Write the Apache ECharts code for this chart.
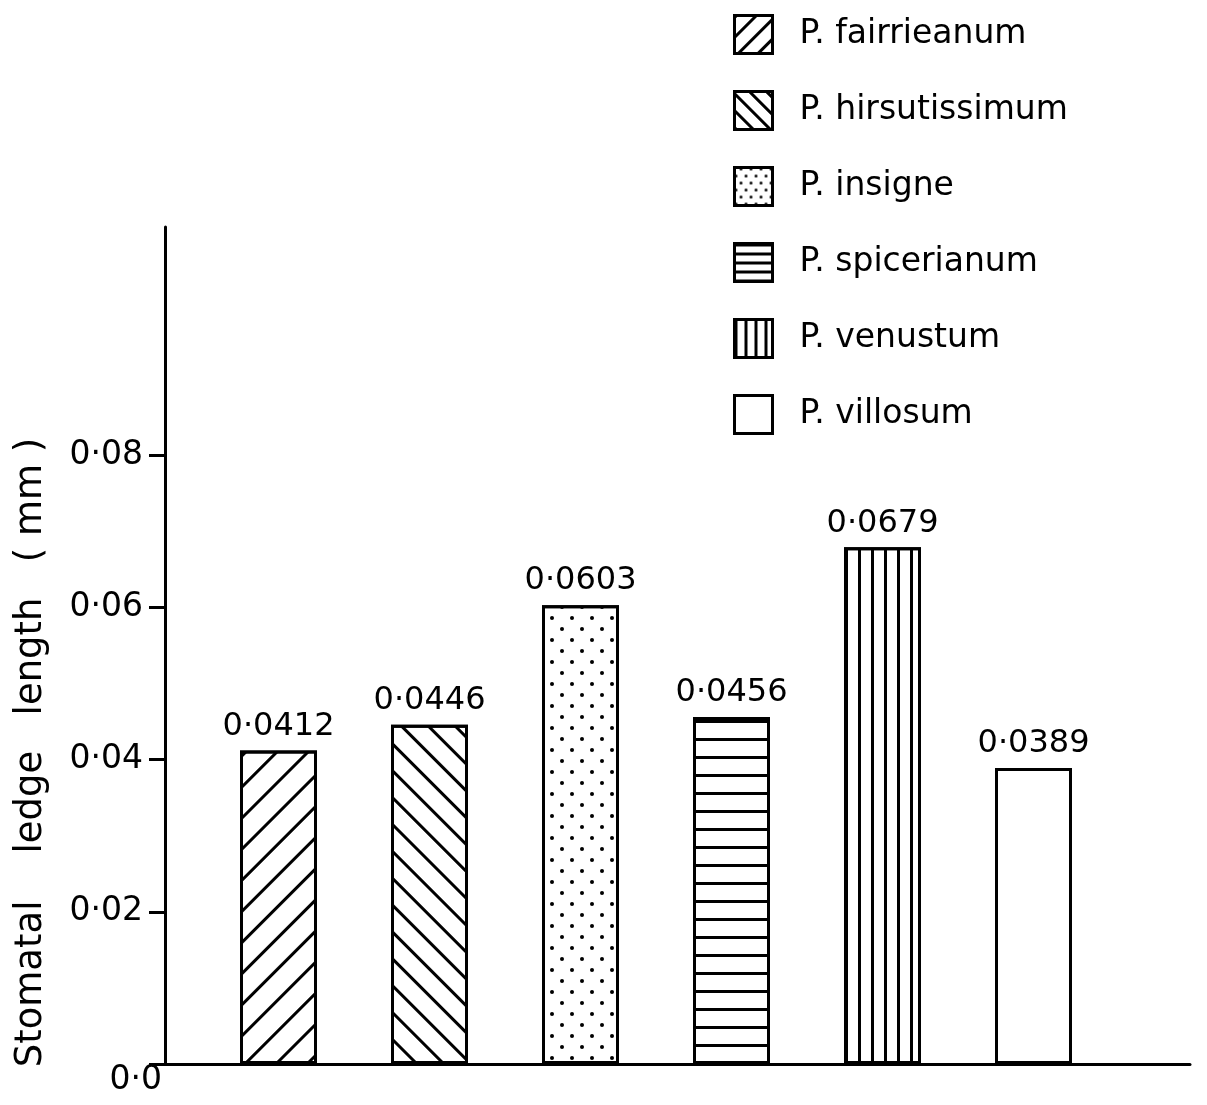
<!DOCTYPE html>
<html>
<head>
<meta charset="utf-8">
<script src="https://cdn.jsdelivr.net/npm/echarts@6/dist/echarts.min.js"></script>
<style>
  html, body { margin: 0; padding: 0; background: #fff; }
  #chart { width: 1207px; height: 1105px; }
</style>
</head>
<body>
<div id="chart"></div>
<script>
// Stomatal ledge length (mm) for six Paphiopedilum species
const species = ['P. fairrieanum', 'P. hirsutissimum', 'P. insigne', 'P. spicerianum', 'P. venustum', 'P. villosum'];
const ledgeLength = [0.0412, 0.0446, 0.0603, 0.0456, 0.0679, 0.0389];
const yTickValues = [0, 0.02, 0.04, 0.06, 0.08];
const yLabelValues = [0.02, 0.04, 0.06, 0.08];
const yZeroLabel = [0];

const FONT = 'DejaVu Sans';
const INK = '#000';
const EMPTY = { symbol: 'none', color: 'rgba(0,0,0,0)' };

// decimal point printed as a raised dot, e.g. 0·0412
function dotted(v, digits) {
  return v.toFixed(digits).replace('.', '·');
}

// fill patterns for the bars, one per species
const barHatches = [
  { symbol: 'rect', symbolSize: 1, dashArrayX: [1, 0], dashArrayY: [3, 19], rotation: -Math.PI / 4, color: INK },
  { symbol: 'rect', symbolSize: 1, dashArrayX: [1, 0], dashArrayY: [3, 16], rotation: Math.PI / 4, color: INK },
  { symbol: 'circle', symbolSize: 1, dashArrayX: [[4, 16], [0, 10, 4, 6]], dashArrayY: [4, 7], rotation: 0, color: INK },
  { symbol: 'rect', symbolSize: 1, dashArrayX: [1, 0], dashArrayY: [3, 15], rotation: 0, color: INK },
  { symbol: 'rect', symbolSize: 1, dashArrayX: [3, 10], dashArrayY: [1, 0], rotation: 0, color: INK },
  EMPTY
];

// the small legend swatches use a finer version of the same patterns
const keyHatches = [
  { symbol: 'rect', symbolSize: 1, dashArrayX: [1, 0], dashArrayY: [3, 11], rotation: -Math.PI / 4, color: INK },
  { symbol: 'rect', symbolSize: 1, dashArrayX: [1, 0], dashArrayY: [3, 9], rotation: Math.PI / 4, color: INK },
  { symbol: 'circle', symbolSize: 1, dashArrayX: [[3, 7], [0, 5, 3, 2]], dashArrayY: [3, 4], rotation: 0, color: INK },
  { symbol: 'rect', symbolSize: 1, dashArrayX: [1, 0], dashArrayY: [3, 5.5], rotation: 0, color: INK },
  { symbol: 'rect', symbolSize: 1, dashArrayX: [3, 7], dashArrayY: [1, 0], rotation: 0, color: INK },
  EMPTY
];

const series = species.map((name, i) => ({
  name: name,
  type: 'bar',
  stack: 'species',
  xAxisIndex: 1,
  yAxisIndex: 1,
  barWidth: 77,
  data: species.map((_, j) => (j === i ? ledgeLength[i] : '-')),
  itemStyle: { color: '#fff', borderColor: INK, borderWidth: 3, decal: barHatches[i] },
  label: {
    show: true,
    position: 'top',
    distance: 8,
    formatter: p => dotted(p.value, 4),
    fontFamily: FONT,
    fontSize: 32,
    color: INK
  }
}));

const chart = echarts.init(document.getElementById('chart'), null, { renderer: 'canvas' });
chart.setOption({
  animation: false,
  backgroundColor: '#fff',
  legend: {
    data: species.map((name, i) => ({
      name: name,
      itemStyle: { color: '#fff', borderColor: INK, borderWidth: 3, decal: keyHatches[i] }
    })),
    orient: 'vertical',
    left: 728,
    top: 9,
    icon: 'rect',
    itemWidth: 38,
    itemHeight: 38,
    itemGap: 35,
    selectedMode: false,
    textStyle: { fontFamily: FONT, fontSize: 33, color: INK, padding: [0, 0, 0, 22] }
  },
  grid: [
    { left: 165, right: 17, top: 227, bottom: 41 },
    { left: 203, width: 906, top: 227, bottom: 41 }
  ],
  xAxis: [
    {
      gridIndex: 0, type: 'value', min: 0, max: 1,
      axisLine: { show: true, lineStyle: { color: INK, width: 3 } },
      axisTick: { show: false }, axisLabel: { show: false }, splitLine: { show: false }
    },
    {
      gridIndex: 1, type: 'category', data: species, show: false
    }
  ],
  yAxis: [
    {
      gridIndex: 0, type: 'value', min: 0, max: 0.11, interval: 0.01,
      name: 'Stomatal    ledge   length   ( mm )',
      nameLocation: 'middle',
      nameGap: 115,
      nameTextStyle: { fontFamily: FONT, fontSize: 37, color: INK, padding: [0, 214, 0, 0] },
      axisLine: { show: true, lineStyle: { color: INK, width: 3 } },
      axisTick: { show: true, length: 16, customValues: yTickValues, lineStyle: { color: INK, width: 3 } },
      axisLabel: {
        customValues: yLabelValues,
        margin: 22,
        formatter: v => dotted(v, 2),
        fontFamily: FONT, fontSize: 33, color: INK
      },
      splitLine: { show: false }
    },
    {
      gridIndex: 1, type: 'value', min: 0, max: 0.11, show: false
    },
    {
      gridIndex: 0, type: 'value', min: 0, max: 0.11, position: 'left',
      axisLine: { show: false }, axisTick: { show: false }, splitLine: { show: false },
      axisLabel: {
        customValues: yZeroLabel,
        margin: 3,
        verticalAlign: 'top',
        formatter: v => dotted(v, 1),
        fontFamily: FONT, fontSize: 33, color: INK
      }
    }
  ],
  series: series
});
</script>
</body>
</html>
